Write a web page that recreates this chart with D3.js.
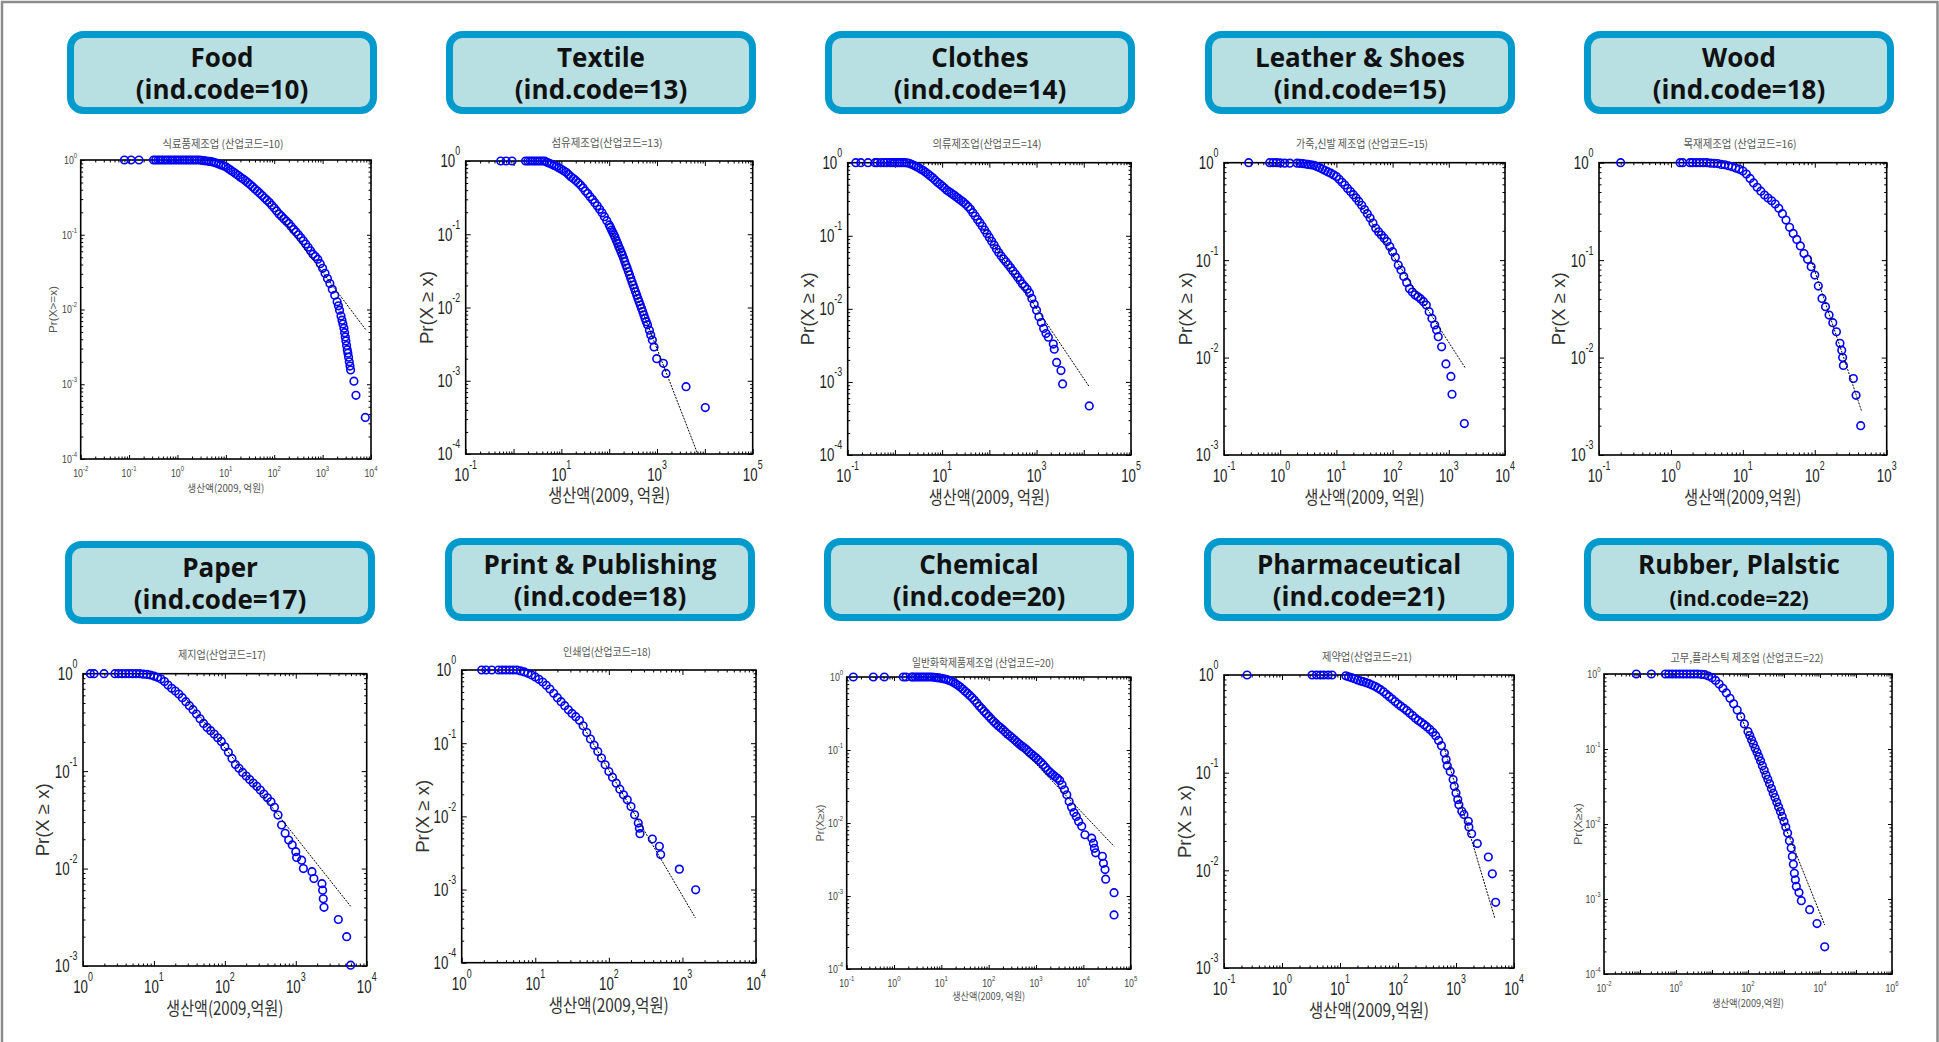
<!DOCTYPE html>
<html>
<head>
<meta charset="utf-8">
<script src="https://cdn.jsdelivr.net/npm/d3@7"></script>
<style>
  html, body { margin: 0; padding: 0; background: #fff; }
  svg { display: block; }
  .hd { font-family: "Open Sans", "Noto Sans", sans-serif; font-weight: 700; font-size: 26px; fill: #111; text-anchor: middle; }
  .tk { font-family: "Liberation Sans", Arial, sans-serif; }
  .kr { font-family: "Noto Sans CJK KR", "Noto Sans", sans-serif; }
  .pr { font-family: "Liberation Sans", Arial, sans-serif; }
</style>
</head>
<body>
<svg id="chart" width="1939" height="1042"></svg>
<script>
// ---- industries ----
const categories = ["Food", "Textile", "Clothes", "Leather & Shoes", "Wood",
                    "Paper", "Print & Publishing", "Chemical", "Pharmaceutical", "Rubber, Plalstic"];
const indCodes = [10, 13, 14, 15, 18, 17, 18, 20, 21, 22];
const subtitles = ["식료품제조업 (산업코드=10)", "섬유제조업(산업코드=13)", "의류제조업(산업코드=14)",
                   "가죽,신발 제조업 (산업코드=15)", "목재제조업 (산업코드=16)", "제지업(산업코드=17)",
                   "인쇄업(산업코드=18)", "일반화학제품제조업 (산업코드=20)", "제약업(산업코드=21)",
                   "고무,플라스틱 제조업 (산업코드=22)"];
const yAxisLabels = ["Pr(X>=x)", "Pr(X ≥ x)", "Pr(X ≥ x)", "Pr(X ≥ x)", "Pr(X ≥ x)",
                     "Pr(X ≥ x)", "Pr(X ≥ x)", "Pr(X≥x)", "Pr(X ≥ x)", "Pr(X≥x)"];
const xAxisLabels = ["생산액(2009, 억원)", "생산액(2009, 억원)", "생산액(2009, 억원)", "생산액(2009, 억원)",
                     "생산액(2009,억원)", "생산액(2009,억원)", "생산액(2009,억원)", "생산액(2009, 억원)",
                     "생산액(2009,억원)", "생산액(2009,억원)"];

// axis ranges (production in 억원, probability)
const xDomains = [[1e-2, 1e4], [1e-1, 1e5], [1e-1, 1e5], [1e-1, 1e4], [1e-1, 1e3],
                  [1, 1e4], [1, 1e4], [1e-1, 1e5], [1e-1, 1e4], [1e-2, 1e6]];
const yDomains = [[1e-4, 1], [1e-4, 1], [1e-4, 1], [1e-3, 1], [1e-3, 1],
                  [1e-3, 1], [1e-4, 1], [1e-4, 1], [1e-3, 1], [1e-4, 1]];
// labelled decades (exponents of 10)
const xTickExps = [[-2, -1, 0, 1, 2, 3, 4], [-1, 1, 3, 5], [-1, 1, 3, 5], [-1, 0, 1, 2, 3, 4], [-1, 0, 1, 2, 3],
                   [0, 1, 2, 3, 4], [0, 1, 2, 3, 4], [-1, 0, 1, 2, 3, 4, 5], [-1, 0, 1, 2, 3, 4], [-2, 0, 2, 4, 6]];

// ---- complementary cumulative distributions: x = production, p = Pr(X >= x) ----
const foodX = [0.080, 0.11, 0.16,
  0.32, 0.355, 0.40, 0.447, 0.50, 0.562, 0.63, 0.708, 0.79, 0.891,
  1.0, 1.12, 1.26, 1.41, 1.58, 1.78, 2.0, 2.24, 2.51, 2.82, 3.16, 3.55, 3.98, 4.47, 5.01, 5.62, 6.31, 7.08, 7.94, 8.91,
  10, 11.2, 12.6, 14.1, 15.8, 17.8, 20, 22.4, 25.1, 28.2, 31.6, 35.5, 39.8, 44.7, 50.1, 56.2, 63.1, 70.8, 79.4, 89.1,
  100, 112, 126, 141, 158, 178, 200, 224, 251, 282, 316, 355, 398, 447, 501, 562, 631, 708, 794, 891,
  1000, 1122, 1259, 1413, 1585, 1778, 1995, 2120, 2239, 2399, 2512, 2630, 2760, 2850, 2940, 3030, 3130, 3230, 3330, 3440, 3560, 3680, 3790,
  4440, 4890, 7620];
const foodP = [1, 1, 1,
  1, 1, 1, 1, 1, 1, 1, 1, 1, 1,
  1, 1, 1, 1, 1, 1, 1, 1, 1, 1, 0.99, 0.98, 0.97, 0.96, 0.95, 0.93, 0.91, 0.885, 0.86, 0.835,
  0.81, 0.77, 0.73, 0.695, 0.66, 0.625, 0.59, 0.56, 0.53, 0.50, 0.47, 0.44, 0.41, 0.385, 0.36, 0.335, 0.31, 0.29, 0.27, 0.248,
  0.228, 0.208, 0.19, 0.177, 0.164, 0.152, 0.141, 0.129, 0.118, 0.109, 0.100, 0.091, 0.083, 0.075, 0.068, 0.061, 0.055, 0.051, 0.047, 0.041,
  0.0356, 0.0305, 0.026, 0.0222, 0.0186, 0.0155, 0.0127, 0.0112, 0.0098, 0.0082, 0.0072, 0.0064, 0.0056, 0.0049, 0.0043, 0.0038, 0.0033, 0.0029, 0.0026, 0.0023, 0.0020, 0.00175, 0.00155,
  0.0011, 0.00071, 0.00036];
const foodFitX = [75, 7750], foodFitP = [0.29, 0.0054];

const textileX = [0.54, 0.70, 0.93,
  1.78, 2.0, 2.24, 2.51, 2.82, 3.16, 3.55, 3.98, 4.47, 5.01, 5.62, 6.31, 7.08, 7.94, 8.91,
  10, 11.2, 12.6, 14.1, 15.8, 17.8, 20, 22.4, 25.1, 28.2, 31.6, 35.5, 39.8, 44.7, 50.1, 56.2, 63.1, 70.8, 79.4, 89.1,
  100, 106, 112, 119, 126, 133, 141, 150, 158, 168, 178, 188, 200, 211, 224, 237, 251, 266, 282, 299, 316, 335, 355, 376, 398, 422, 447, 473, 501, 531, 562, 596, 631,
  692, 738, 798, 865, 984, 1355, 1540, 4040, 10200];
const textileP = [1, 1, 1,
  1, 1, 1, 1, 1, 1, 1, 1, 1, 0.96, 0.93, 0.90, 0.87, 0.84, 0.805,
  0.77, 0.735, 0.70, 0.655, 0.61, 0.575, 0.54, 0.505, 0.47, 0.43, 0.39, 0.36, 0.326, 0.297, 0.27, 0.244, 0.219, 0.196, 0.174, 0.153,
  0.134, 0.124, 0.114, 0.106, 0.098, 0.090, 0.082, 0.075, 0.068, 0.0625, 0.057, 0.052, 0.047, 0.0425, 0.038, 0.0345, 0.031, 0.028, 0.025, 0.0225, 0.0203, 0.0183, 0.0164, 0.0148, 0.0133, 0.012, 0.0108, 0.0098, 0.0088, 0.0079, 0.0071, 0.0064, 0.0058,
  0.0049, 0.0042, 0.0036, 0.0029, 0.0020, 0.00173, 0.00126, 0.00083, 0.00043];
const textileFitX = [115, 7080], textileFitP = [0.105, 0.0001];

const clothesX = [0.148, 0.19, 0.27, 0.38, 0.42, 0.50, 0.59, 0.67, 0.79, 0.891,
  1.0, 1.12, 1.26, 1.41, 1.58, 1.78, 2.0, 2.24, 2.51, 2.82, 3.16, 3.55, 3.98, 4.47, 5.01, 5.62, 6.31, 7.08, 7.94, 8.91,
  10, 11.2, 12.6, 14.1, 15.8, 17.8, 20, 22.4, 25.1, 28.2, 31.6, 35.5, 39.8, 44.7, 50.1, 56.2, 63.1, 70.8, 79.4, 89.1,
  100, 112, 126, 141, 158, 178, 200, 224, 251, 282, 316, 355, 398, 447, 501, 562, 631, 708, 794, 891,
  1000, 1122, 1259, 1413, 1585, 1778,
  2260, 2370, 2660, 3290, 3560, 13060];
const clothesP = [1, 1, 1, 1, 1, 1, 1, 1, 1, 1,
  1, 1, 1, 1, 1, 0.995, 0.98, 0.95, 0.92, 0.885, 0.855, 0.815, 0.78, 0.74, 0.70, 0.66, 0.62, 0.58, 0.54, 0.51,
  0.48, 0.45, 0.42, 0.40, 0.38, 0.36, 0.34, 0.322, 0.305, 0.288, 0.27, 0.25, 0.23, 0.207, 0.186, 0.167, 0.151, 0.135, 0.12, 0.107,
  0.095, 0.084, 0.075, 0.066, 0.059, 0.053, 0.048, 0.044, 0.040, 0.0365, 0.033, 0.030, 0.027, 0.0245, 0.0219, 0.0203, 0.0185, 0.0165, 0.0139, 0.0116,
  0.0096, 0.0078, 0.0065, 0.0054, 0.0046, 0.0041,
  0.0033, 0.0028, 0.00185, 0.00143, 0.00094, 0.00047];
const clothesFitX = [71, 13060], clothesFitP = [0.129, 0.00086];

const leatherX = [0.275, 0.65, 0.75, 0.86, 1.0, 1.2, 1.48,
  2.0, 2.24, 2.51, 2.82, 3.16, 3.55, 3.98, 4.47, 5.01, 5.62, 6.31, 7.08, 7.94, 8.91,
  10, 11.2, 12.6, 14.1, 15.8, 17.8, 20, 22.4, 25.1, 28.2, 31.6, 35.5, 39.8, 44.7, 50.1, 56.2, 63.1, 70.8, 79.4, 89.1,
  100, 112, 126, 141, 158, 178, 200, 224, 251, 282, 316, 355, 398, 447, 501, 562,
  607, 649, 745, 889, 1090, 1140, 1890];
const leatherP = [1, 1, 1, 1, 0.995, 0.99, 0.99,
  0.99, 0.985, 0.98, 0.97, 0.96, 0.95, 0.94, 0.915, 0.89, 0.86, 0.83, 0.805, 0.78, 0.75,
  0.72, 0.675, 0.63, 0.59, 0.545, 0.505, 0.47, 0.435, 0.40, 0.365, 0.33, 0.30, 0.27, 0.24, 0.212, 0.195, 0.181, 0.168, 0.155, 0.138,
  0.122, 0.107, 0.089, 0.079, 0.068, 0.059, 0.051, 0.047, 0.044, 0.042, 0.040, 0.0375, 0.0346, 0.0296, 0.0252, 0.0216,
  0.0192, 0.0164, 0.0129, 0.0086, 0.0064, 0.0042, 0.0021];
const leatherFitX = [19.9, 1940], leatherFitP = [0.48, 0.0079];

const woodX = [0.2, 1.34, 1.46, 1.84,
  2.0, 2.24, 2.51, 2.82, 3.16, 3.55, 3.98, 4.47, 5.01, 5.62, 6.31, 7.08, 7.94, 8.91,
  10, 11.2, 12.6, 14.1, 15.8, 17.8, 20, 22.4, 25.1, 28.2, 31.6, 35.5, 39.8, 44.7, 50.1, 56.2, 63.1, 70.8, 79.4, 89.1,
  100, 112, 126, 141, 158, 178, 200, 224,
  237, 244, 250, 344, 375, 435];
const woodP = [1, 1, 1, 1,
  1, 1, 1, 1, 1, 0.99, 0.985, 0.98, 0.96, 0.953, 0.93, 0.91, 0.88, 0.855,
  0.82, 0.765, 0.69, 0.62, 0.56, 0.51, 0.466, 0.434, 0.407, 0.377, 0.34, 0.30, 0.258, 0.217, 0.188, 0.163, 0.14, 0.117, 0.102, 0.0857,
  0.0703, 0.0542, 0.0405, 0.0333, 0.0273, 0.0228, 0.0184, 0.014,
  0.0119, 0.010, 0.0083, 0.0061, 0.0041, 0.0020];
const woodFitX = [85.9, 449], woodFitP = [0.108, 0.0028];

const paperX = [1.27, 1.43, 1.98,
  2.82, 3.16, 3.55, 3.98, 4.47, 5.01, 5.62, 6.31, 7.08, 7.94, 8.91,
  10, 11.2, 12.6, 14.1, 15.8, 17.8, 20, 22.4, 25.1, 28.2, 31.6, 35.5, 39.8, 44.7, 50.1, 56.2, 63.1, 70.8, 79.4, 89.1,
  100, 112, 126, 141, 158, 178, 200, 224, 251, 282, 316, 355, 398, 447, 501, 562, 631, 708, 794, 891,
  1000, 1028, 1210, 1280, 1690, 1800, 2340, 2390, 2440, 2500, 3980, 5220, 5940];
const paperP = [1, 1, 1,
  1, 1, 1, 1, 1, 1, 1, 1, 0.99, 0.985, 0.97,
  0.946, 0.917, 0.88, 0.83, 0.765, 0.707, 0.664, 0.618, 0.567, 0.516, 0.47, 0.427, 0.385, 0.345, 0.309, 0.281, 0.26, 0.24, 0.22, 0.202,
  0.178, 0.156, 0.135, 0.117, 0.107, 0.097, 0.089, 0.082, 0.0755, 0.0698, 0.064, 0.0582, 0.0533, 0.0485, 0.0425, 0.0354, 0.028, 0.023, 0.0196, 0.0175,
  0.0149, 0.013, 0.0122, 0.01, 0.0093, 0.0079, 0.0070, 0.006, 0.0049, 0.004, 0.003, 0.002, 0.00102];
const paperFitX = [28.8, 5940], paperFitP = [0.545, 0.0041];

const printX = [1.87, 2.14, 2.56,
  3.16, 3.55, 3.98, 4.47, 5.01, 5.62, 6.31, 7.08, 7.94, 8.91,
  10, 11.2, 12.6, 14.1, 15.8, 17.8, 20, 22.4, 25.1, 28.2, 31.6, 35.5, 39.8, 44.7, 50.1, 56.2, 63.1, 70.8, 79.4, 89.1,
  100, 112, 126, 141, 158, 178, 200, 224, 251,
  260, 265, 390, 486, 506, 908, 1514];
const printP = [1, 1, 1,
  1, 1, 1, 1, 1, 1, 0.97, 0.94, 0.90, 0.855,
  0.80, 0.745, 0.685, 0.617, 0.55, 0.48, 0.418, 0.369, 0.325, 0.286, 0.255, 0.23, 0.205, 0.173, 0.14, 0.114, 0.094, 0.077, 0.0625, 0.0507,
  0.041, 0.0343, 0.0284, 0.0235, 0.0197, 0.0168, 0.0136, 0.0105, 0.0081,
  0.0069, 0.0058, 0.0049, 0.0039, 0.003, 0.0019, 0.00099];
const printFitX = [42.7, 1500], printFitP = [0.184, 0.00041];

const chemX = [0.138, 0.366, 0.625, 1.57, 1.79, 2.36,
  2.51, 2.82, 3.16, 3.55, 3.98, 4.47, 5.01, 5.62, 6.31, 7.08, 7.94, 8.91,
  10, 11.2, 12.6, 14.1, 15.8, 17.8, 20, 22.4, 25.1, 28.2, 31.6, 35.5, 39.8, 44.7, 50.1, 56.2, 63.1, 70.8, 79.4, 89.1,
  100, 112, 126, 141, 158, 178, 200, 224, 251, 282, 316, 355, 398, 447, 501, 562, 631, 708, 794, 891,
  1000, 1122, 1259, 1413, 1585, 1778, 1995, 2239, 2512, 2818, 3162,
  3548, 3981, 4467, 5012, 5623, 6310, 7079, 7943,
  9230, 10800, 15000, 16300, 17100, 18200, 25200, 26500, 28700, 29600, 44500, 44500];
const chemP = [1, 1, 1, 1, 1, 1,
  1, 1, 1, 1, 1, 1, 1, 1, 1, 0.99, 0.98, 0.97,
  0.96, 0.945, 0.93, 0.905, 0.88, 0.845, 0.81, 0.77, 0.73, 0.685, 0.64, 0.60, 0.56, 0.52, 0.48, 0.44, 0.40, 0.37, 0.34, 0.314,
  0.289, 0.268, 0.247, 0.23, 0.215, 0.202, 0.19, 0.177, 0.165, 0.155, 0.146, 0.137, 0.128, 0.12, 0.113, 0.107, 0.101, 0.094, 0.088, 0.083,
  0.078, 0.073, 0.068, 0.063, 0.0577, 0.053, 0.0493, 0.046, 0.0434, 0.041, 0.0383,
  0.0334, 0.0285, 0.0243, 0.0197, 0.0165, 0.0139, 0.0123, 0.0105,
  0.009, 0.0069, 0.0062, 0.0053, 0.0045, 0.0039, 0.0035, 0.0028, 0.0023, 0.0017, 0.00111, 0.00055];
const chemFitX = [51.4, 44500], chemFitP = [0.489, 0.0048];

const pharmaX = [0.25, 3.3, 3.93, 4.6, 5.25, 6.24, 7.3,
  12.6, 14.1, 15.8, 17.8, 20, 22.4, 25.1, 28.2, 31.6, 35.5, 39.8, 44.7, 50.1, 56.2, 63.1, 70.8, 79.4, 89.1,
  100, 112, 126, 141, 158, 178, 200, 224, 251, 282, 316, 355, 398,
  447, 501, 562, 631, 676, 708, 794, 891, 933, 1000, 1072, 1122, 1259,
  1370, 1630, 1670, 1860, 2330, 3610, 4230, 4830];
const pharmaP = [1, 1, 1, 1, 1, 1, 1,
  0.98, 0.96, 0.94, 0.915, 0.89, 0.87, 0.855, 0.835, 0.815, 0.79, 0.765, 0.738, 0.708, 0.672, 0.634, 0.60, 0.568, 0.535,
  0.505, 0.48, 0.456, 0.432, 0.408, 0.385, 0.36, 0.343, 0.327, 0.31, 0.294, 0.277, 0.259,
  0.239, 0.214, 0.189, 0.159, 0.136, 0.118, 0.103, 0.085, 0.0725, 0.062, 0.053, 0.047, 0.0402,
  0.0372, 0.0318, 0.0278, 0.0237, 0.0188, 0.0137, 0.0092, 0.0047];
const pharmaFitX = [620, 4700], pharmaFitP = [0.183, 0.0032];

const rubberX = [0.079, 0.207, 0.506, 0.63,
  0.79, 1, 1.26, 1.58, 2.0, 2.51, 3.16, 3.98, 5.01, 6.31, 7.94,
  10, 12.6, 15.8, 20, 25.1, 31.6, 39.8, 50.1, 63.1, 79.4,
  100, 112, 126, 141, 158, 178, 200, 224, 251, 282, 316, 355, 398, 447, 501, 562, 631, 708, 794, 891,
  1000, 1122, 1259, 1413, 1585,
  1700, 1820, 1940, 2070, 2200, 2610, 3030, 5160, 8260, 13500];
const rubberP = [1, 1, 1, 1,
  1, 1, 1, 1, 1, 1, 1, 1, 0.99, 0.98, 0.94,
  0.89, 0.82, 0.735, 0.645, 0.56, 0.475, 0.40, 0.33, 0.27, 0.216,
  0.171, 0.151, 0.132, 0.117, 0.102, 0.0905, 0.079, 0.0694, 0.060, 0.0521, 0.045, 0.0395, 0.0343, 0.0297, 0.0258, 0.0225, 0.0195, 0.0169, 0.0147, 0.0126,
  0.0108, 0.0091, 0.0076, 0.006, 0.0048,
  0.0037, 0.0029, 0.0022, 0.0018, 0.00147, 0.00122, 0.00095, 0.00072, 0.00047, 0.00023];
const rubberFitX = [58.7, 13500], rubberFitP = [0.30, 0.00045];

const seriesX = [foodX, textileX, clothesX, leatherX, woodX, paperX, printX, chemX, pharmaX, rubberX];
const seriesP = [foodP, textileP, clothesP, leatherP, woodP, paperP, printP, chemP, pharmaP, rubberP];
const fitsX = [foodFitX, textileFitX, clothesFitX, leatherFitX, woodFitX, paperFitX, printFitX, chemFitX, pharmaFitX, rubberFitX];
const fitsP = [foodFitP, textileFitP, clothesFitP, leatherFitP, woodFitP, paperFitP, printFitP, chemFitP, pharmaFitP, rubberFitP];

// ---- page layout: header box, plot frame and label positions for each panel ----
const layout = [
  {bx: 67,   by: 31,  x0: 80.7,  y0: 160,   x1: 371,    y1: 459,   small: true,  subX: 223,  subY: 144,   yLabX: 53,    xLabY: 487,  subW: 121, xLabW: 77,  yLabW: 47},
  {bx: 446,  by: 31,  x0: 465.7, y0: 161,   x1: 752.7,  y1: 454,   small: false, subX: 607,  subY: 143,   yLabX: 427,   xLabY: 495,  subW: 111, xLabW: 122, yLabW: 73},
  {bx: 825,  by: 31,  x0: 847.7, y0: 162.7, x1: 1131,   y1: 455,   small: false, subX: 987,  subY: 144,   yLabX: 808,   xLabY: 497,  subW: 109, xLabW: 121, yLabW: 73},
  {bx: 1205, by: 31,  x0: 1224,  y0: 162.7, x1: 1505,   y1: 455,   small: false, subX: 1362, subY: 144,   yLabX: 1186,  xLabY: 497,  subW: 132, xLabW: 120, yLabW: 73},
  {bx: 1584, by: 31,  x0: 1599,  y0: 162.7, x1: 1886.7, y1: 455,   small: false, subX: 1740, subY: 144,   yLabX: 1559,  xLabY: 497,  subW: 113, xLabW: 117, yLabW: 73},
  {bx: 65,   by: 541, x0: 83,    y0: 673.7, x1: 366.7,  y1: 966,   small: false, subX: 222,  subY: 655,   yLabX: 43,    xLabY: 1008, subW: 88,  xLabW: 117, yLabW: 73},
  {bx: 445,  by: 538, x0: 461.7, y0: 670,   x1: 756,    y1: 962.7, small: false, subX: 607,  subY: 651.7, yLabX: 422.7, xLabY: 1005, subW: 88,  xLabW: 120, yLabW: 73},
  {bx: 824,  by: 538, x0: 846.7, y0: 677,   x1: 1130.7, y1: 969,   small: true,  subX: 983,  subY: 663,   yLabX: 820,   xLabY: 995,  subW: 142, xLabW: 73,  yLabW: 37},
  {bx: 1204, by: 538, x0: 1224,  y0: 675,   x1: 1514,   y1: 968,   small: false, subX: 1367, subY: 657,   yLabX: 1185,  xLabY: 1010, subW: 90,  xLabW: 120, yLabW: 73},
  {bx: 1584, by: 538, x0: 1604,  y0: 674,   x1: 1892,   y1: 974,   small: true,  subX: 1747, subY: 658,   yLabX: 1578,  xLabY: 1002, subW: 153, xLabW: 72,  yLabW: 42, codeFs: 21}
];

// tick-label styles; sx narrows the digits horizontally
const BIG   = {fs: 18, sfs: 12, raise: 12, sx: 0.74, xOff: 27, yGap: 5.5, maj: 5, min: 2.5, lab: 18, labCol: "#333", tickCol: "#222"};
const SMALL = {fs: 11, sfs: 7.5, raise: 6, sx: 0.8, xOff: 18, yGap: 3.5, maj: 4, min: 2.5, lab: 10.5, labCol: "#555", tickCol: "#444"};

const svg = d3.select("#chart");

// slide border: top, left and right edges (the bottom edge runs off the page)
svg.append("rect").attr("x", 2).attr("y", 2).attr("width", 1935.5).attr("height", 1100)
  .attr("fill", "none").attr("stroke", "#8c8c8c").attr("stroke-width", 2.5);

function decades(dom) {
  const lo = Math.round(Math.log10(dom[0])), hi = Math.round(Math.log10(dom[1]));
  const major = d3.range(lo, hi + 1).map(e => Math.pow(10, e));
  const minor = [];
  for (let e = lo; e < hi; e++) for (let k = 2; k <= 9; k++) minor.push(k * Math.pow(10, e));
  return {major, minor, lo, hi};
}

function tickGroup(g, axis, tx, ty) {
  const a = g.append("g").attr("transform", `translate(${tx},${ty})`).call(axis);
  a.select(".domain").remove();
  a.selectAll("text").remove();
  a.selectAll("line").attr("stroke", "#000").attr("stroke-width", 1);
}

function powerLabel(g, px, py, e, anchor, st) {
  const t = g.append("text").attr("class", "tk")
    .attr("transform", `translate(${px},${py}) scale(${st.sx},1)`)
    .attr("text-anchor", anchor).attr("fill", st.tickCol).style("font-size", st.fs + "px");
  t.append("tspan").text("10");
  t.append("tspan").attr("dy", -st.raise).style("font-size", st.sfs + "px").text(e);
}

categories.forEach((name, i) => {
  const L = layout[i];
  const st = L.small ? SMALL : BIG;
  const g = svg.append("g");

  // header box
  g.append("rect")
    .attr("x", L.bx + 3.5).attr("y", L.by + 3.5).attr("width", 303).attr("height", 76).attr("rx", 13)
    .attr("fill", "#b8dfe2").attr("stroke", "#009acd").attr("stroke-width", 7);
  const hx = L.bx + 155;
  g.append("text").attr("class", "hd").attr("x", hx).attr("y", L.by + 35.7).text(name);
  g.append("text").attr("class", "hd").attr("x", hx).attr("y", L.by + 68)
    .style("font-size", (L.codeFs || 26) + "px").text(`(ind.code=${indCodes[i]})`);

  // scales
  const x = d3.scaleLog().domain(xDomains[i]).range([L.x0, L.x1]);
  const y = d3.scaleLog().domain(yDomains[i]).range([L.y1, L.y0]);
  const dx = decades(xDomains[i]), dy = decades(yDomains[i]);

  // inward ticks on all four sides
  tickGroup(g, d3.axisBottom(x).tickValues(dx.major).tickSize(-st.maj).tickFormat(""), 0, L.y1);
  tickGroup(g, d3.axisBottom(x).tickValues(dx.minor).tickSize(-st.min).tickFormat(""), 0, L.y1);
  tickGroup(g, d3.axisTop(x).tickValues(dx.major).tickSize(-st.maj).tickFormat(""), 0, L.y0);
  tickGroup(g, d3.axisTop(x).tickValues(dx.minor).tickSize(-st.min).tickFormat(""), 0, L.y0);
  tickGroup(g, d3.axisLeft(y).tickValues(dy.major).tickSize(-st.maj).tickFormat(""), L.x0, 0);
  tickGroup(g, d3.axisLeft(y).tickValues(dy.minor).tickSize(-st.min).tickFormat(""), L.x0, 0);
  tickGroup(g, d3.axisRight(y).tickValues(dy.major).tickSize(-st.maj).tickFormat(""), L.x1, 0);
  tickGroup(g, d3.axisRight(y).tickValues(dy.minor).tickSize(-st.min).tickFormat(""), L.x1, 0);

  // plot frame
  g.append("rect").attr("x", L.x0).attr("y", L.y0).attr("width", L.x1 - L.x0).attr("height", L.y1 - L.y0)
    .attr("fill", "none").attr("stroke", "#000").attr("stroke-width", 1.6);

  // tick labels 10^e
  xTickExps[i].forEach(e => powerLabel(g, x(Math.pow(10, e)), L.y1 + st.xOff, e, "middle", st));
  d3.range(dy.lo, dy.hi + 1).forEach(e => powerLabel(g, L.x0 - st.yGap, y(Math.pow(10, e)) + st.fs * 0.36, e, "end", st));

  // panel subtitle
  g.append("text").attr("class", "kr").attr("x", L.subX).attr("y", L.subY + 4).attr("text-anchor", "middle")
    .attr("fill", "#555").style("font-size", "11px")
    .attr("textLength", L.subW).attr("lengthAdjust", "spacingAndGlyphs").text(subtitles[i]);

  // axis titles
  const cy = (L.y0 + L.y1) / 2, cx = (L.x0 + L.x1) / 2;
  g.append("text").attr("class", "pr").attr("transform", `translate(${L.yLabX},${cy}) rotate(-90)`)
    .attr("text-anchor", "middle").attr("dy", "0.36em").attr("fill", st.labCol).style("font-size", st.lab + "px")
    .attr("textLength", L.yLabW).attr("lengthAdjust", "spacingAndGlyphs").text(yAxisLabels[i]);
  g.append("text").attr("class", "kr").attr("x", cx).attr("y", L.xLabY + st.lab * 0.36 + 1)
    .attr("text-anchor", "middle").attr("fill", st.labCol).style("font-size", st.lab + "px")
    .attr("textLength", L.xLabW).attr("lengthAdjust", "spacingAndGlyphs").text(xAxisLabels[i]);

  // data markers
  const pts = seriesX[i].map((v, k) => ({x: v, p: seriesP[i][k]}));
  g.append("g").selectAll("circle").data(pts).join("circle")
    .attr("cx", d => x(d.x)).attr("cy", d => y(d.p)).attr("r", 3.8)
    .attr("fill", "none").attr("stroke", "#0000ff").attr("stroke-width", 1.6);

  // power-law fit
  const fit = fitsX[i].map((v, k) => ({x: v, p: fitsP[i][k]}));
  g.append("path").datum(fit)
    .attr("d", d3.line().x(d => x(d.x)).y(d => y(d.p)))
    .attr("fill", "none").attr("stroke", "#000").attr("stroke-width", 1).attr("stroke-dasharray", "2,1.2");
});
</script>
</body>
</html>
